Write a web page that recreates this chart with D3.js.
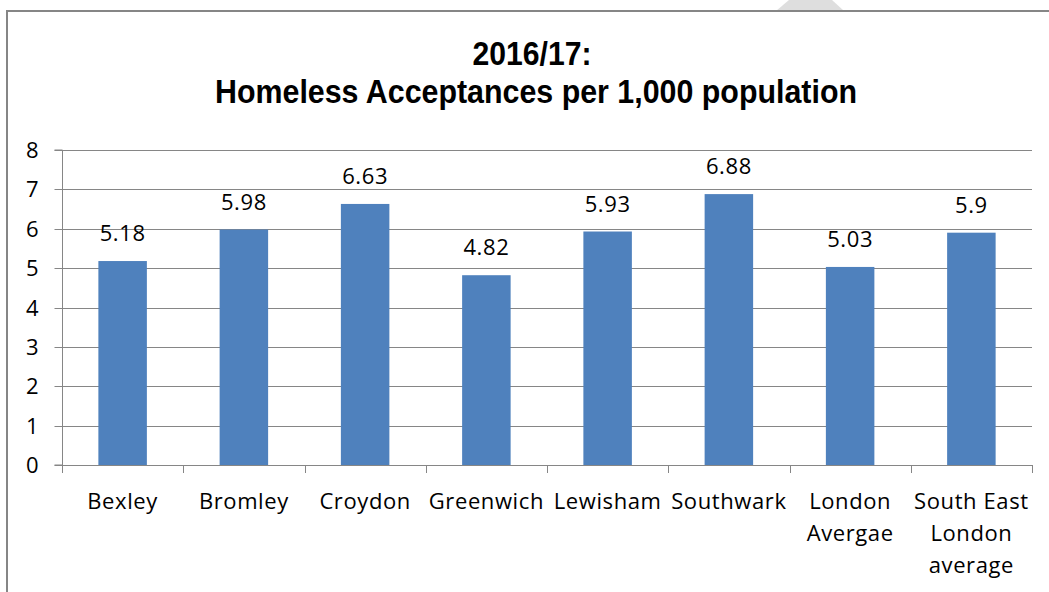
<!DOCTYPE html>
<html>
<head>
<meta charset="utf-8">
<script src="https://cdn.jsdelivr.net/npm/d3@7"></script>
<style>
  html, body { margin: 0; padding: 0; background: #fff; }
  svg { display: block; }
</style>
</head>
<body>
<svg id="chart" width="1049" height="592"></svg>
<script>
// ---- data ----
const categories = ["Bexley", "Bromley", "Croydon", "Greenwich", "Lewisham", "Southwark", "London\nAvergae", "South East\nLondon\naverage"];
const values = [5.18, 5.98, 6.63, 4.82, 5.93, 6.88, 5.03, 5.9];
const valueLabels = ["5.18", "5.98", "6.63", "4.82", "5.93", "6.88", "5.03", "5.9"];
const yTicks = [0, 1, 2, 3, 4, 5, 6, 7, 8];
const titleLines = ["2016/17:", "Homeless Acceptances per 1,000 population"];

const svg = d3.select("#chart");
const W = 1049, H = 592;
const axisColor = "#868686";
const barColor = "#4F81BD";
const font = "'Open Sans', 'DejaVu Sans', sans-serif";

// decorative light-grey shape at the top
svg.append("path")
  .attr("d", "M776,11 L789,0 L832,0 L844,11 Z")
  .attr("fill", "#dedede");

// outer chart border
svg.append("rect")
  .attr("x", 7).attr("y", 11)
  .attr("width", W + 20).attr("height", H + 20)
  .attr("fill", "none")
  .attr("stroke", axisColor)
  .attr("stroke-width", 2);

// title
svg.append("text")
  .attr("x", 532).attr("y", 65)
  .attr("text-anchor", "middle")
  .style("font-family", "'Liberation Sans', Arial, sans-serif")
  .style("font-weight", "bold")
  .style("font-size", "32.5px")
  .attr("textLength", 119).attr("lengthAdjust", "spacingAndGlyphs")
  .text(titleLines[0]);
svg.append("text")
  .attr("x", 536).attr("y", 103)
  .attr("text-anchor", "middle")
  .style("font-family", "'Liberation Sans', Arial, sans-serif")
  .style("font-weight", "bold")
  .style("font-size", "32.5px")
  .attr("textLength", 642).attr("lengthAdjust", "spacingAndGlyphs")
  .text(titleLines[1]);

// scales
const x0 = 62, x1 = 1032, yTop = 150, yBot = 465;
const x = d3.scaleBand().domain(categories).range([x0, x1]).paddingInner(0).paddingOuter(0);
const y = d3.scaleLinear().domain([0, 8]).range([yBot, yTop]);

// gridlines
svg.append("g").selectAll("line").data(yTicks.filter(d => d > 0)).join("line")
  .attr("x1", x0).attr("x2", x1)
  .attr("y1", d => Math.round(y(d)) + 0.5).attr("y2", d => Math.round(y(d)) + 0.5)
  .attr("stroke", axisColor).attr("stroke-width", 1);

// y axis
const yAxis = d3.axisLeft(y).tickValues(yTicks).tickSize(8).tickPadding(16).tickFormat(d3.format("d"));
const gy = svg.append("g").attr("transform", `translate(${x0 + 0.5},0)`).call(yAxis);
gy.select(".domain").attr("stroke", axisColor).attr("d", `M-8,${yTop}H0V${yBot}H-8`);
gy.selectAll(".tick line").attr("stroke", axisColor);
gy.selectAll(".tick").attr("transform", d => `translate(0,${Math.round(y(d)) + 0.5})`);
gy.selectAll(".tick text")
  .style("font-family", font).style("font-size", "22px").attr("fill", "#000")
  .attr("dy", "0.36em");

// bars
const barW = x.bandwidth() * 0.4;
svg.append("g").selectAll("rect").data(values).join("rect")
  .attr("x", (d, i) => x(categories[i]) + (x.bandwidth() - barW) / 2)
  .attr("y", d => y(d))
  .attr("width", barW)
  .attr("height", d => yBot - y(d))
  .attr("fill", barColor);

// x axis line + ticks
const xAxis = d3.axisBottom(x).tickSize(0).tickFormat("");
const gx = svg.append("g").attr("transform", `translate(0,${yBot + 0.5})`).call(xAxis);
gx.select(".domain").attr("stroke", axisColor).attr("d", `M${x0},0H${x1}`);
gx.selectAll(".tick").remove();
const bounds = categories.map(c => x(c)).concat([x1]);
svg.append("g").selectAll("line").data(bounds).join("line")
  .attr("x1", d => Math.round(d) + 0.5).attr("x2", d => Math.round(d) + 0.5)
  .attr("y1", yBot).attr("y2", yBot + 8)
  .attr("stroke", axisColor);

// category labels
const lab = svg.append("g").selectAll("text").data(categories).join("text")
  .attr("x", d => x(d) + x.bandwidth() / 2)
  .attr("y", 509)
  .attr("text-anchor", "middle")
  .style("font-family", font).style("font-size", "22px")
  .style("letter-spacing", "0.6px")
  .attr("fill", "#000");
lab.each(function(d) {
  const t = d3.select(this);
  d.split("\n").forEach((line, i) => {
    t.append("tspan").attr("x", x(d) + x.bandwidth() / 2).attr("y", 509 + i * 32).text(line);
  });
});

// value labels
svg.append("g").selectAll("text").data(values).join("text")
  .attr("x", (d, i) => x(categories[i]) + x.bandwidth() / 2)
  .attr("y", d => y(d) - 20)
  .attr("text-anchor", "middle")
  .style("font-family", font).style("font-size", "22px")
  .style("letter-spacing", "0.6px")
  .attr("fill", "#000")
  .text((d, i) => valueLabels[i]);
</script>
</body>
</html>
